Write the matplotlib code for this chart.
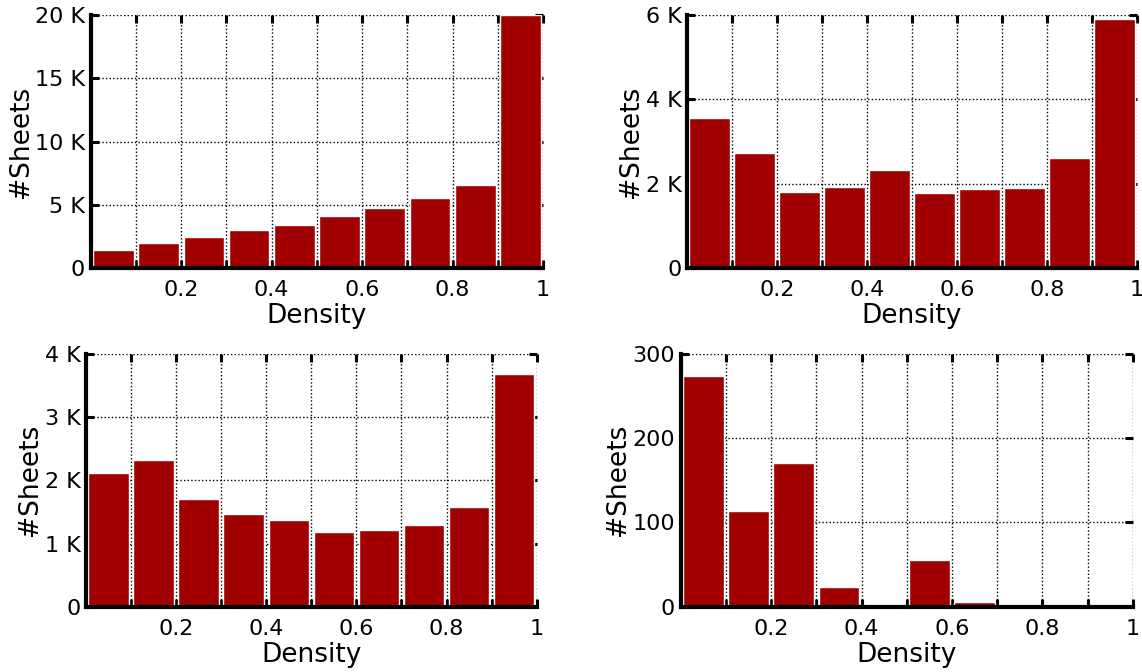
import matplotlib
matplotlib.use("Agg")
import matplotlib.pyplot as plt
from matplotlib.ticker import FuncFormatter, MultipleLocator

# Histogramm-Bins (Dichte 0..1 in 0.1-Schritten)
BIN_CENTERS = [0.05, 0.15, 0.25, 0.35, 0.45, 0.55, 0.65, 0.75, 0.85, 0.95]
SHEETS_A = [1420, 2000, 2450, 2980, 3400, 4130, 4740, 5560, 6540, 20000]
SHEETS_B = [3560, 2720, 1810, 1930, 2320, 1790, 1870, 1900, 2620, 5900]
SHEETS_C = [2110, 2330, 1710, 1470, 1370, 1180, 1220, 1290, 1580, 3680]
SHEETS_D = [274, 114, 171, 23, 0, 56, 5, 0, 0, 0]

X_LABELS = {0.2: "0.2", 0.4: "0.4", 0.6: "0.6", 0.8: "0.8", 1.0: "1"}
BAR_COLOR = "#a00000"

W, H = 1142, 672
# (links, rechts, oben, unten) in Pixeln, ymax, y-Schritt, K-Format
PANELS = [
    (SHEETS_A, (90.8, 543, 15, 268), 20000, 5000, True),
    (SHEETS_B, (687, 1137, 15, 268), 6000, 2000, True),
    (SHEETS_C, (86, 536.7, 354, 606.7), 4000, 1000, True),
    (SHEETS_D, (680.7, 1132.7, 354, 606.7), 300, 100, False),
]


def k_fmt(v, _pos):
    if v == 0:
        return "0"
    return f"{int(round(v / 1000))} K"


def x_fmt(v, _pos):
    return X_LABELS.get(round(v, 1), "")


fig = plt.figure(figsize=(W / 100, H / 100), dpi=100)
plt.rcParams["font.family"] = ["DejaVu Sans"]

for values, (l, r, t, b), ymax, ystep, kilo in PANELS:
    ax = fig.add_axes([l / W, 1 - b / H, (r - l) / W, (b - t) / H])
    ax.bar(BIN_CENTERS, values, width=0.09, color=BAR_COLOR,
           edgecolor="white", linewidth=1.0)
    ax.set_xlim(0, 1)
    ax.set_ylim(0, ymax)
    ax.xaxis.set_major_locator(MultipleLocator(0.1))
    ax.xaxis.set_major_formatter(FuncFormatter(x_fmt))
    ax.yaxis.set_major_locator(MultipleLocator(ystep))
    if kilo:
        ax.yaxis.set_major_formatter(FuncFormatter(k_fmt))
    ax.set_axisbelow(True)
    ax.grid(True, color="black", linestyle=(0, (1, 1.6)), linewidth=1.0)
    for side in ("top", "right"):
        ax.spines[side].set_visible(False)
    for side in ("left", "bottom"):
        ax.spines[side].set_linewidth(3)
    ax.tick_params(direction="in", length=6, width=2.2, top=True, right=True,
                   labelsize=16)
    ax.tick_params(axis="x", pad=9)
    ax.tick_params(axis="y", pad=4)
    ax.set_xlabel("Density", fontsize=19, labelpad=2)
    ax.set_ylabel("#Sheets", fontsize=19, labelpad=1)

fig.savefig("out.png", dpi=100)
